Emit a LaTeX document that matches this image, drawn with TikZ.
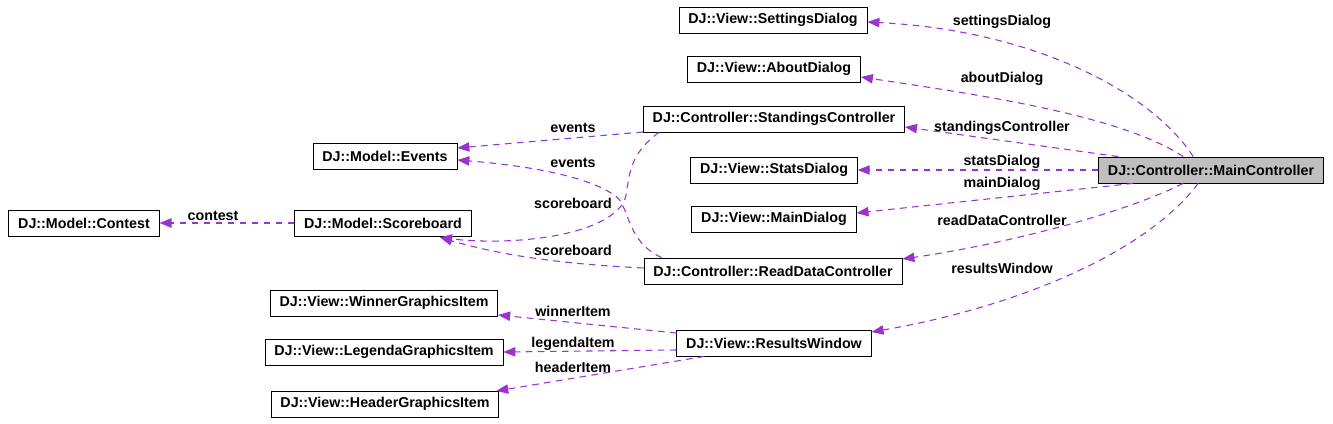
\documentclass[tikz,border=0pt]{standalone}
\usepackage{fontspec}
\setmainfont{Liberation Sans}
\usetikzlibrary{arrows.meta,calc}

\definecolor{usecol}{HTML}{9A32CD}

\begin{document}
\begin{tikzpicture}[
  x=0.75pt, y=-0.75pt,
  font=\bfseries\fontsize{10.7}{12}\selectfont,
  cls/.style={draw, semithick, inner xsep=7pt, minimum height=19.5pt, fill=white},
  focus/.style={cls, fill=black!25},
  use/.style={-{Triangle[length=9pt,width=7pt]}, draw=usecol, thick, dash pattern=on 5pt off 4pt},
  lbl/.style={inner sep=0pt}
]
\useasboundingbox (0,0) rectangle (1333,424);

% classes
\node[focus] (main) at (1211,170) {DJ::Controller::MainController};
\node[cls] (settings) at (773,20) {DJ::View::SettingsDialog};
\node[cls] (about) at (774,69) {DJ::View::AboutDialog};
\node[cls] (standings) at (774,119) {DJ::Controller::StandingsController};
\node[cls] (stats) at (774,170) {DJ::View::StatsDialog};
\node[cls] (maindlg) at (774,219) {DJ::View::MainDialog};
\node[cls] (readdata) at (773,271) {DJ::Controller::ReadDataController};
\node[cls] (results) at (774,343) {DJ::View::ResultsWindow};
\node[cls] (events) at (385,156) {DJ::Model::Events};
\node[cls] (scoreboard) at (383,223) {DJ::Model::Scoreboard};
\node[cls] (contest) at (84,223) {DJ::Model::Contest};
\node[cls] (winner) at (384,303) {DJ::View::WinnerGraphicsItem};
\node[cls] (legenda) at (384,352) {DJ::View::LegendaGraphicsItem};
\node[cls] (header) at (385,404) {DJ::View::HeaderGraphicsItem};

% MainController members
\draw[use] ($(main.north west)+(95,0)$) .. controls (1150,90) and (1030,30) .. ($(settings.east)+(0,2)$);
\draw[use] ($(main.north west)+(85,0)$) .. controls (1120,115) and (980,95) .. ($(about.east)+(0,8)$);
\draw[use] ($(main.north west)+(20,0)$) -- ($(standings.east)+(0,8)$);
\draw[use] (main.west) -- (stats.east);
\draw[use] ($(main.south west)+(35,0)$) -- ($(maindlg.east)+(0,-6)$);
\draw[use] ($(main.south west)+(85,0)$) .. controls (1120,215) and (1000,245) .. ($(readdata.east)+(0,-12)$);
\draw[use] ($(main.south west)+(100,0)$) .. controls (1140,260) and (1000,310) .. ($(results.east)+(0,-11)$);

% controller members
\draw[use] ($(standings.west)+(0,13)$) -- ($(events.east)+(0,-8)$);
\draw[use] ($(standings.south west)+(16,0)$) .. controls (620,160) and (632,192) .. (622,205)
  .. controls (595,240) and (500,245) .. ($(scoreboard.south)+(57,1)$);
\draw[use] ($(readdata.north west)+(18,0)$) .. controls (628,242) and (630,212) .. (618,198)
  .. controls (590,175) and (520,165) .. ($(events.east)+(0,4)$);
\draw[use] ($(readdata.west)+(0,-3)$) .. controls (560,264) and (500,255) .. ($(scoreboard.south)+(57,1)$);
\draw[use] (scoreboard.west) -- (contest.east);

% ResultsWindow members
\draw[use] ($(results.west)+(0,-10)$) -- ($(winner.east)+(0,12)$);
\draw[use] ($(results.west)+(0,7)$) -- ($(legenda.east)+(0,0)$);
\draw[use] ($(results.south west)+(28,0)$) -- ($(header.east)+(-3,-13)$);

% labels
\node[lbl] (lsettings) at (1002,22) {settingsDialog};
\node[lbl] (labout) at (1002,79) {aboutDialog};
\node[lbl] (lstandings) at (1002,128) {standingsController};
\node[lbl] (lstats) at (1002,162) {statsDialog};
\node[lbl] (lmaindlg) at (1002,184) {mainDialog};
\node[lbl] (lreaddata) at (1002,220) {readDataController};
\node[lbl] (lresults) at (1002,268) {resultsWindow};
\node[lbl] (levents1) at (573,128) {events};
\node[lbl] (levents2) at (573,163) {events};
\node[lbl] (lscore1) at (573,203) {scoreboard};
\node[lbl] (lscore2) at (573,250) {scoreboard};
\node[lbl] (lcontest) at (213,216) {contest};
\node[lbl] (lwinner) at (573,311) {winnerItem};
\node[lbl] (llegenda) at (573,344) {legendaItem};
\node[lbl] (lheader) at (573,367) {headerItem};
\end{tikzpicture}
\end{document}
